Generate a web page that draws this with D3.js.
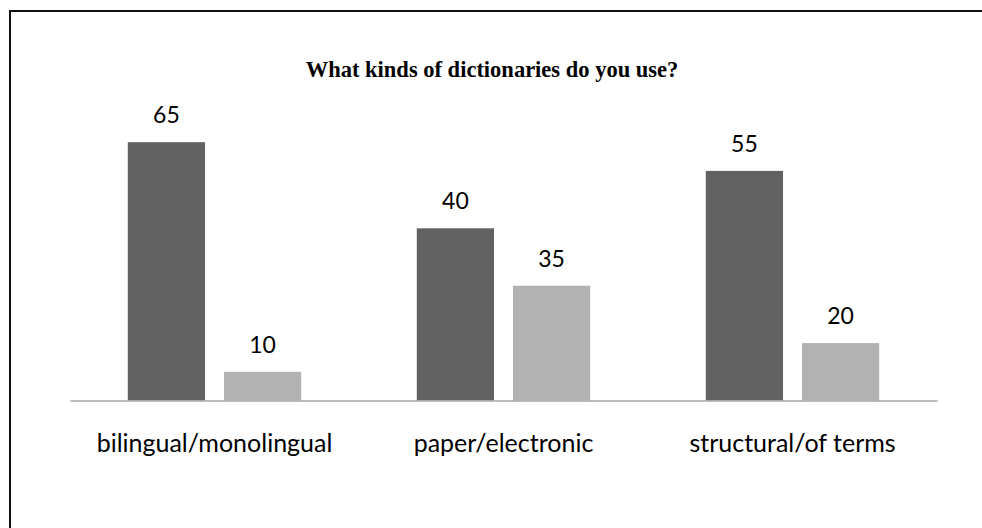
<!DOCTYPE html>
<html><head><meta charset="utf-8">
<script src="https://cdn.jsdelivr.net/npm/d3@7"></script>
<style>html,body{margin:0;padding:0;background:#fff;overflow:hidden;}svg{display:block;overflow:hidden;}</style>
</head><body>
<svg id="chart" width="982" height="528"></svg>
<script>
const title = "What kinds of dictionaries do you use?";
const categories = ["bilingual/monolingual", "paper/electronic", "structural/of terms"];
const series = ["first", "second"];
// bar heights (share of answers, %)
const barFirst = [90, 60, 80];
const barSecond = [10, 40, 20];
// numbers printed above the bars
const labelFirst = [65, 40, 55];
const labelSecond = [10, 35, 20];

const svg = d3.select("#chart");
const colors = {first: "#626262", second: "#b2b2b2"};

// frame: only top and left edges are visible in the picture
svg.append("path").attr("d", "M10,600V11H1200")
  .attr("fill", "none").attr("stroke", "#111").attr("stroke-width", 2);

const x0 = d3.scaleBand().domain(categories).range([70, 937]).paddingInner(0).paddingOuter(0);
const bw = x0.bandwidth();
const x1 = d3.scaleBand().domain(series).range([bw * 0.2, bw * 0.8]).paddingInner(0.197).paddingOuter(0);
const y = d3.scaleLinear().domain([0, 100]).range([400.5, 113.5]);

const rows = categories.map((c, i) => ({
  cat: c,
  vals: [
    {s: "first", v: barFirst[i], label: labelFirst[i]},
    {s: "second", v: barSecond[i], label: labelSecond[i]}
  ]
}));

const g = svg.selectAll("g.grp").data(rows).join("g")
  .attr("class", "grp").attr("transform", d => `translate(${x0(d.cat)},0)`);

g.selectAll("rect").data(d => d.vals).join("rect")
  .attr("x", d => x1(d.s)).attr("width", x1.bandwidth())
  .attr("y", d => y(d.v)).attr("height", d => y(0) - y(d.v))
  .attr("fill", d => colors[d.s]);

g.selectAll("text.val").data(d => d.vals).join("text")
  .attr("class", "val")
  .attr("x", d => x1(d.s) + x1.bandwidth() / 2)
  .attr("y", d => y(d.v) - 19)
  .attr("text-anchor", "middle")
  .attr("font-family", "Lato, 'Open Sans', sans-serif")
  .attr("font-size", 23)
  .attr("fill", "#000")
  .text(d => d.label);

// axis
const axis = d3.axisBottom(x0).tickSize(0).tickPadding(0);
const ax = svg.append("g").attr("transform", `translate(0,${y(0)})`).call(axis);
ax.select(".domain").attr("stroke", "#a6a6a6").attr("stroke-width", 1.5);
ax.selectAll(".tick text")
  .attr("dy", 0).attr("y", 51)
  .attr("font-family", "Lato, 'Open Sans', sans-serif")
  .attr("font-size", 25)
  .attr("fill", "#000");

svg.append("text").attr("x", 492).attr("y", 77).attr("text-anchor", "middle")
  .attr("font-family", "'Liberation Serif', 'Times New Roman', serif")
  .attr("font-weight", "bold").attr("font-size", 22.5).attr("fill", "#000")
  .text(title);
</script>
</body></html>
